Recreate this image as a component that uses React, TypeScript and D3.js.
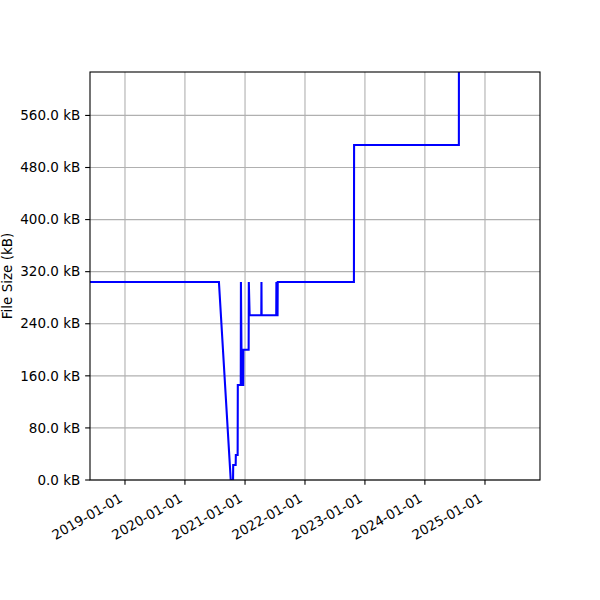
import { line, scaleLinear, scaleTime, timeParse } from "d3";

const width = 600;
const height = 600;
const margin = { top: 72, right: 60, bottom: 120, left: 90 };

const innerWidth = width - margin.left - margin.right;
const innerHeight = height - margin.top - margin.bottom;

// data points (kB)
const dates = [
  "2018-06-02", "2020-07-26", "2020-10-06", "2020-10-20", "2020-10-21",
  "2020-11-05", "2020-11-06", "2020-11-17", "2020-11-18", "2020-12-06",
  "2020-12-07", "2020-12-12", "2020-12-21", "2020-12-22", "2021-01-23",
  "2021-01-24", "2021-01-29", "2021-04-10", "2021-04-11", "2021-04-12",
  "2021-07-10", "2021-07-11", "2021-07-16", "2021-07-18", "2021-07-19",
  "2022-10-26", "2022-10-27", "2024-07-26", "2024-07-27", "2025-12-02",
];
const sizes = [
  304.2, 304.2, 0, 0, 23,
  23, 38.4, 38.4, 146, 146,
  304.2, 146, 146, 200, 200,
  304.2, 253, 253, 304.2, 253,
  253, 304.2, 253, 253, 304.2,
  304.2, 514.6, 514.6, 900, 900,
];

const xTickLabels = [
  "2019-01-01", "2020-01-01", "2021-01-01", "2022-01-01",
  "2023-01-01", "2024-01-01", "2025-01-01",
];
const yTicks = [0, 80, 160, 240, 320, 400, 480, 560];
const xDomain = ["2018-06-02", "2025-12-02"];
const yDomain = [0, 626.7];

const parse = timeParse("%Y-%m-%d");
const font = "DejaVu Sans, sans-serif";
const fontSize = 13.5;
const tickLen = 4.86;

function App() {
  const xScale = scaleTime()
    .domain(xDomain.map((d) => parse(d) as Date))
    .range([0, innerWidth]);
  const yScale = scaleLinear().domain(yDomain).range([innerHeight, 0]);

  const points = dates.map((d, i) => ({ date: parse(d) as Date, size: sizes[i] }));
  const path = line<{ date: Date; size: number }>()
    .x((d) => xScale(d.date))
    .y((d) => yScale(d.size))(points);

  return (
    <svg
      width={width}
      height={height}
      style={{ position: "absolute", left: 0, top: 0, background: "#fff" }}
      fontFamily={font}
    >
      <defs>
        <clipPath id="plot">
          <rect width={innerWidth} height={innerHeight} />
        </clipPath>
      </defs>
      <g transform={`translate(${margin.left},${margin.top})`}>
        {/* grid */}
        {xTickLabels.map((t) => {
          const x = xScale(parse(t) as Date);
          return (
            <line key={t} x1={x} x2={x} y1={0} y2={innerHeight} stroke="#b0b0b0" strokeWidth={1.1} />
          );
        })}
        {yTicks.map((v) => (
          <line key={v} x1={0} x2={innerWidth} y1={yScale(v)} y2={yScale(v)} stroke="#b0b0b0" strokeWidth={1.1} />
        ))}

        <path d={path ?? ""} fill="none" stroke="#0000ff" strokeWidth={2.08} clipPath="url(#plot)" />

        <rect width={innerWidth} height={innerHeight} fill="none" stroke="#000" strokeWidth={1.1} />

        {/* y axis */}
        {yTicks.map((v) => (
          <g key={v} transform={`translate(0,${yScale(v)})`}>
            <line x1={-tickLen} x2={0} stroke="#000" strokeWidth={1.1} />
            <text x={-tickLen - 4.86} dy="0.35em" textAnchor="end" fontSize={fontSize}>
              {`${v.toFixed(1)} kB`}
            </text>
          </g>
        ))}

        {/* x axis */}
        {xTickLabels.map((t) => {
          const x = xScale(parse(t) as Date);
          return (
            <g key={t} transform={`translate(${x},${innerHeight})`}>
              <line y1={0} y2={tickLen} stroke="#000" strokeWidth={1.1} />
              <text
                transform={`translate(-1.6,${tickLen + 4.86 + 11.2}) rotate(-30)`}
                textAnchor="end"
                fontSize={fontSize}
              >
                {t}
              </text>
            </g>
          );
        })}

        <text
          transform={`translate(${-margin.left + 12},${innerHeight / 2}) rotate(-90)`}
          textAnchor="middle"
          fontSize={fontSize}
        >
          File Size (kB)
        </text>
      </g>
    </svg>
  );
}

export default App;
